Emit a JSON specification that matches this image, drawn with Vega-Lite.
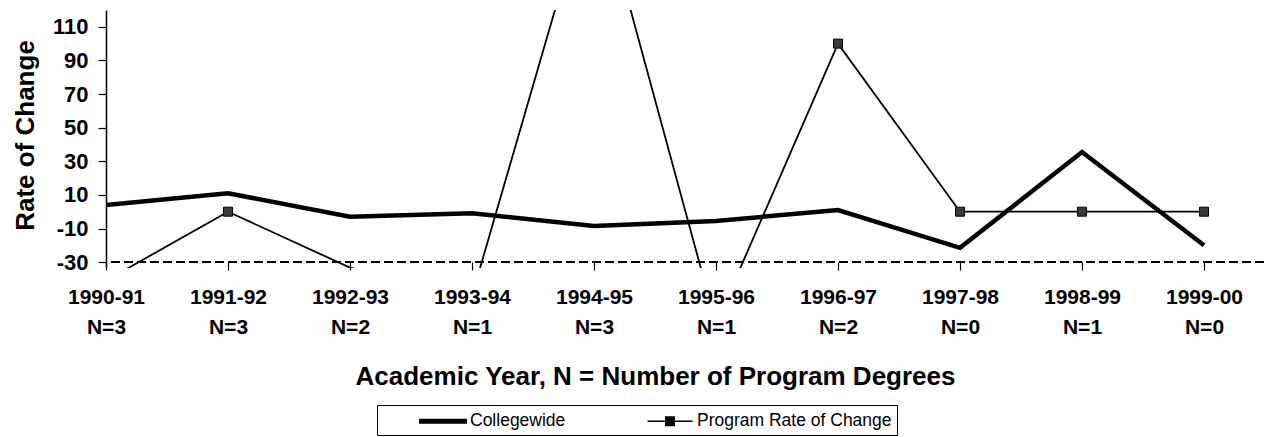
{
  "$schema": "https://vega.github.io/schema/vega-lite/v6.json",
  "width": 1158,
  "height": 258,
  "autosize": "none",
  "padding": {"left": 106, "top": 10, "right": 0, "bottom": 169},
  "background": "white",
  "config": {
    "view": {"stroke": null},
    "font": "Liberation Sans",
    "axis": {"grid": false, "domainColor": "black", "tickColor": "black", "labelColor": "black", "titleColor": "black"}
  },
  "data": {
    "values": [
      {"category": "1990-91|N=3", "series": "Collegewide", "value": 4},
      {"category": "1991-92|N=3", "series": "Collegewide", "value": 11},
      {"category": "1992-93|N=2", "series": "Collegewide", "value": -3},
      {"category": "1993-94|N=1", "series": "Collegewide", "value": -1},
      {"category": "1994-95|N=3", "series": "Collegewide", "value": -8.5},
      {"category": "1995-96|N=1", "series": "Collegewide", "value": -5.5},
      {"category": "1996-97|N=2", "series": "Collegewide", "value": 1},
      {"category": "1997-98|N=0", "series": "Collegewide", "value": -21.5},
      {"category": "1998-99|N=1", "series": "Collegewide", "value": 35.5},
      {"category": "1999-00|N=0", "series": "Collegewide", "value": -20},
      {"category": "1990-91|N=3", "series": "Program Rate of Change", "value": -41},
      {"category": "1991-92|N=3", "series": "Program Rate of Change", "value": 0},
      {"category": "1992-93|N=2", "series": "Program Rate of Change", "value": -33.3},
      {"category": "1993-94|N=1", "series": "Program Rate of Change", "value": -50},
      {"category": "1994-95|N=3", "series": "Program Rate of Change", "value": 200},
      {"category": "1995-96|N=1", "series": "Program Rate of Change", "value": -66.7},
      {"category": "1996-97|N=2", "series": "Program Rate of Change", "value": 100},
      {"category": "1997-98|N=0", "series": "Program Rate of Change", "value": 0},
      {"category": "1998-99|N=1", "series": "Program Rate of Change", "value": 0},
      {"category": "1999-00|N=0", "series": "Program Rate of Change", "value": 0}
    ]
  },
  "encoding": {
    "y": {
      "field": "value",
      "type": "quantitative",
      "scale": {"domain": [-33.5, 120], "nice": false, "zero": false},
      "axis": {
        "values": [-30, -10, 10, 30, 50, 70, 90, 110],
        "labelExpr": "'' + datum.value",
        "labelOverlap": false,
        "labelFontSize": 22,
        "labelFontWeight": "bold",
        "labelPadding": 10,
        "tickSize": 8,
        "tickWidth": 1.2,
        "domainWidth": 1.5,
        "title": "Rate of Change",
        "titleFontSize": 26,
        "titleFontWeight": "bold",
        "titleX": -73,
        "titleY": 125,
        "titleAngle": -90,
        "titleAlign": "center",
        "titleBaseline": "alphabetic"
      }
    }
  },
  "layer": [
    {
      "data": {"values": [{"value": -30}]},
      "mark": {"type": "rule", "color": "black", "strokeWidth": 2, "strokeDash": [9, 4]}
    },
    {
      "encoding": {
        "x": {
          "field": "category",
          "type": "ordinal",
          "sort": null,
          "scale": {"type": "point", "range": [0, 1098], "padding": 0},
          "axis": {
            "offset": -6,
            "domain": false,
            "labelAngle": 0,
            "labelExpr": "split(datum.label, '|')",
            "labelFontSize": 21,
            "labelFontWeight": "bold",
            "labelLineHeight": 30,
            "labelPadding": 16,
            "labelBaseline": "top",
            "labelOverlap": false,
            "tickSize": 8,
            "tickWidth": 1.2,
            "title": "Academic Year, N = Number of Program Degrees",
            "titleFontSize": 26,
            "titleFontWeight": "bold",
            "titleX": 549,
            "titleY": 122,
            "titleAlign": "center",
            "titleBaseline": "alphabetic"
          }
        }
      },
      "layer": [
        {
          "transform": [{"filter": "datum.series == 'Collegewide'"}],
          "mark": {"type": "line", "color": "black", "strokeWidth": 4.5, "clip": true, "strokeJoin": "miter"}
        },
        {
          "transform": [{"filter": "datum.series == 'Program Rate of Change'"}],
          "mark": {"type": "line", "color": "black", "strokeWidth": 1.8, "clip": true}
        },
        {
          "transform": [{"filter": "datum.series == 'Program Rate of Change' && datum.value >= -30 && datum.value <= 120"}],
          "mark": {"type": "point", "shape": "square", "filled": true, "size": 81, "fill": "#3a3a3a", "stroke": "black", "strokeWidth": 1, "opacity": 1, "clip": true}
        },
        {
          "mark": {"type": "point", "filled": true, "color": "black", "opacity": 0, "clip": true},
          "encoding": {
            "shape": {
              "field": "series",
              "type": "nominal",
              "scale": {
                "domain": ["Collegewide", "Program Rate of Change"],
                "range": ["M-2.4,-0.25H2.4V0.25H-2.4Z", "M-2.25,-0.08H2.25V0.08H-2.25Z M-0.5,-0.5H0.5V0.5H-0.5Z"]
              },
              "legend": {
                "title": null,
                "orient": "none",
                "legendX": 271,
                "legendY": 395,
                "direction": "horizontal",
                "strokeColor": "black",
                "fillColor": "white",
                "padding": 5,
                "symbolSize": 400,
                "symbolOffset": 50,
                "symbolOpacity": 1,
                "symbolFillColor": "black",
                "symbolStrokeColor": "black",
                "columnPadding": 43,
                "labelOffset": 16,
                "labelExpr": "datum.label == 'Program Rate of Change' ? datum.label + '     ' : datum.label",
                "labelFontSize": 17.5,
                "labelFont": "Liberation Sans",
                "labelColor": "black",
                "labelLimit": 400
              }
            }
          }
        }
      ]
    }
  ]
}
